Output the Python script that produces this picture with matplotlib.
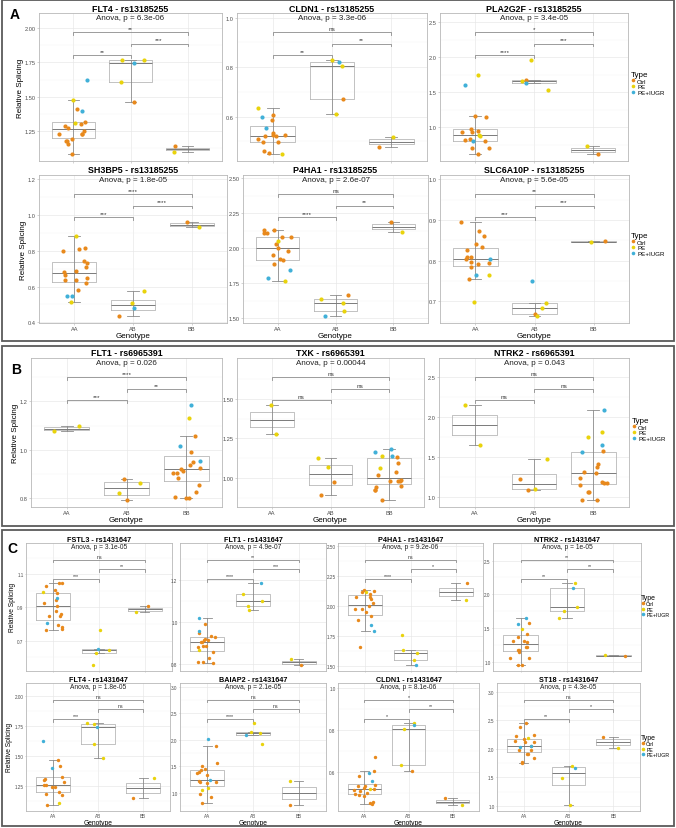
import numpy as np
import matplotlib
matplotlib.use("Agg")
import matplotlib.pyplot as plt
from matplotlib import cbook
from matplotlib.patches import Rectangle
from matplotlib.lines import Line2D

plt.rcParams['font.family'] = ['Liberation Sans', 'DejaVu Sans']

W, H = 676, 829
genotypes = ['AA', 'AB', 'BB']
types = ['Ctrl', 'PE', 'PE+IUGR']
type_colors = ['#E8891C', '#E9D30C', '#40B0D8']

# each genotype -> (Ctrl, PE, PE+IUGR) values
# ---- panel A: rs13185255
flt4_a = {'AA': ([1.41, 1.32, 1.30, 1.285, 1.275, 1.25, 1.23, 1.23, 1.23, 1.195, 1.16, 1.175, 1.175, 1.083], [1.476, 1.31], [1.62, 1.40]),
          'AB': ([1.46], [1.77, 1.77, 1.607], [1.746]),
          'BB': ([1.14], [1.10], [])}
cldn1_a = {'AA': ([0.605, 0.586, 0.524, 0.52, 0.534, 0.527, 0.521, 0.51, 0.497, 0.496, 0.459, 0.452], [0.636, 0.448], [0.597, 0.553]),
           'AB': ([0.671], [0.830, 0.804, 0.61], [0.822]),
           'BB': ([0.477], [0.518], [])}
pla2g2f_a = {'AA': ([1.158, 1.149, 0.977, 0.94, 0.934, 0.924, 0.83, 0.81, 0.80, 0.70, 0.695, 0.614], [1.74, 0.89, 0.876], [1.607, 0.80]),
             'AB': ([1.669], [1.965, 1.664, 1.535], [1.626]),
             'BB': ([0.623], [0.728], [])}
sh3bp5_a = {'AA': ([0.815, 0.81, 0.80, 0.741, 0.733, 0.707, 0.686, 0.68, 0.667, 0.65, 0.638, 0.636, 0.621, 0.579], [0.882, 0.516], [0.55, 0.547]),
            'AB': ([0.435], [0.573, 0.51], [0.48]),
            'BB': ([0.962], [0.93], [])}
p4ha1_a = {'AA': ([2.133, 2.128, 2.11, 2.106, 2.08, 2.08, 2.03, 2.0, 1.98, 1.953, 1.92, 1.915, 1.89], [2.05, 1.763], [1.843, 1.79]),
           'AB': ([1.668], [1.634, 1.612, 1.55], [1.515]),
           'BB': ([2.19], [2.118], [])}
slc6a10p_a = {'AA': ([0.896, 0.874, 0.86, 0.841, 0.834, 0.826, 0.81, 0.808, 0.804, 0.797, 0.795, 0.791, 0.785, 0.756], [0.766, 0.698], [0.805, 0.766]),
              'AB': ([0.669], [0.697, 0.683, 0.664], [0.75]),
              'BB': ([0.848], [0.846], [])}
# ---- panel B: rs6965391
flt1_b = {'AA': ([], [1.099, 1.076], []),
          'AB': ([0.88, 0.793], [0.865, 0.821], []),
          'BB': ([1.058, 0.99, 0.949, 0.937, 0.925, 0.92, 0.914, 0.906, 0.903, 0.883, 0.857, 0.828, 0.807, 0.803, 0.80], [1.132], [1.185, 1.017, 0.956])}
txk_b = {'AA': ([], [1.462, 1.276], []),
         'AB': ([0.977, 0.895], [1.128, 1.071], []),
         'BB': ([1.134, 1.094, 1.036, 1.017, 0.988, 0.983, 0.981, 0.981, 0.952, 0.941, 0.927, 0.927, 0.86], [1.14, 1.063], [1.186, 1.167, 1.142])}
ntrk2_b = {'AA': ([], [2.154, 1.654], []),
           'AB': ([1.233, 1.092], [1.483, 1.104], []),
           'BB': ([1.579, 1.421, 1.375, 1.313, 1.308, 1.238, 1.196, 1.183, 1.179, 1.158, 1.071, 1.067, 0.971, 0.967], [1.813, 1.758], [2.088, 1.65, 1.567])}
# ---- panel C: rs1431647
fstl3_c = {'AA': ([1.045, 1.045, 1.027, 1.003, 0.985, 0.944, 0.928, 0.906, 0.878, 0.86, 0.848, 0.848, 0.797, 0.785, 0.771, 0.763], [0.991], [0.957, 0.805]),
           'AB': ([], [0.765, 0.642, 0.623, 0.553], [0.65]),
           'BB': ([0.906], [0.872], [])}
flt1_c = {'AA': ([0.991, 0.95, 0.934, 0.928, 0.921, 0.913, 0.913, 0.905, 0.905, 0.885, 0.885, 0.882, 0.858, 0.83, 0.811, 0.808, 0.803], [0.866], [1.017, 0.957]),
          'AB': ([], [1.132, 1.098, 1.074, 1.058], [1.184]),
          'BB': ([0.795], [0.824], [])}
p4ha1_c = {'AA': ([2.134, 2.128, 2.12, 2.1, 2.08, 2.077, 2.063, 2.027, 1.999, 1.979, 1.973, 1.953, 1.92, 1.883, 1.663], [2.117], [1.841, 1.793]),
           'AB': ([], [1.762, 1.635, 1.613, 1.551], [1.511]),
           'BB': ([2.19], [2.049], [])}
ntrk2_c = {'AA': ([1.579, 1.417, 1.372, 1.307, 1.307, 1.302, 1.226, 1.221, 1.171, 1.17, 1.15, 1.065, 1.055, 0.954, 0.954], [1.488], [1.649, 1.568]),
           'AB': ([], [2.163, 1.815, 1.755, 1.649], [2.097]),
           'BB': ([1.09], [1.10], [])}
flt4_c = {'AA': ([1.464, 1.412, 1.319, 1.305, 1.296, 1.282, 1.258, 1.258, 1.235, 1.235, 1.198, 1.18, 1.174, 1.087], [1.105], [1.623, 1.40]),
          'AB': ([], [1.774, 1.768, 1.603, 1.479], [1.742]),
          'BB': ([1.145], [1.313], [])}
baiap2_c = {'AA': ([1.873, 1.553, 1.496, 1.446, 1.421, 1.396, 1.364, 1.339, 1.226, 1.207, 1.195, 1.176, 0.969, 0.913, 0.80], [1.088, 1.051], [2.023, 1.239]),
            'AB': ([], [2.312, 2.149, 2.124, 1.929], [2.099]),
            'BB': ([0.762], [1.226], [])}
cldn1_c = {'AA': ([0.668, 0.603, 0.581, 0.536, 0.531, 0.531, 0.524, 0.516, 0.512, 0.508, 0.498, 0.494, 0.49, 0.482, 0.453, 0.45, 0.447], [0.515], [0.592, 0.555]),
           'AB': ([0.605], [0.831, 0.803, 0.634], [0.821]),
           'BB': ([0.473], [0.44], [])}
st18_c = {'AA': ([2.445, 2.374, 2.25, 2.222, 2.17, 2.14, 2.123, 2.123, 2.041, 1.982, 1.971, 1.906, 1.906, 1.842, 1.772, 1.754], [2.181], [2.053, 2.029]),
          'AB': ([], [1.696, 1.491, 1.018], [1.667]),
          'BB': ([2.21], [2.023], [])}

# title, anova p, significance (AA-AB, AB-BB, AA-BB), y tick labels
plots_a = [
    (flt4_a, 'FLT4 - rs13185255', '6.3e-06', ['**', '***', '**'], ['1.25', '1.50', '1.75', '2.00']),
    (cldn1_a, 'CLDN1 - rs13185255', '3.3e-06', ['**', '**', 'ns'], ['0.6', '0.8', '1.0']),
    (pla2g2f_a, 'PLA2G2F - rs13185255', '3.4e-05', ['****', '***', '*'], ['1.0', '1.5', '2.0', '2.5']),
    (sh3bp5_a, 'SH3BP5 - rs13185255', '1.8e-05', ['***', '****', '****'], ['0.4', '0.6', '0.8', '1.0', '1.2']),
    (p4ha1_a, 'P4HA1 - rs13185255', '2.6e-07', ['****', '**', 'ns'], ['1.50', '1.75', '2.00', '2.25', '2.50']),
    (slc6a10p_a, 'SLC6A10P - rs13185255', '5.6e-05', ['***', '***', '**'], ['0.7', '0.8', '0.9', '1.0']),
]
plots_b = [
    (flt1_b, 'FLT1 - rs6965391', '0.026', ['***', '**', '****'], ['0.8', '1.0', '1.2']),
    (txk_b, 'TXK - rs6965391', '0.00044', ['ns', 'ns', 'ns'], ['1.00', '1.25', '1.50']),
    (ntrk2_b, 'NTRK2 - rs6965391', '0.043', ['ns', 'ns', 'ns'], ['1.0', '1.5', '2.0', '2.5']),
]
plots_c = [
    (fstl3_c, 'FSTL3 - rs1431647', '3.1e-05', ['***', '**', 'ns'], ['0.7', '0.9', '1.1']),
    (flt1_c, 'FLT1 - rs1431647', '4.9e-07', ['****', '***', '**'], ['0.8', '1.0', '1.2']),
    (p4ha1_c, 'P4HA1 - rs1431647', '9.2e-06', ['****', '*', 'ns'], ['1.50', '1.75', '2.00', '2.25', '2.50']),
    (ntrk2_c, 'NTRK2 - rs1431647', '1e-05', ['**', '**', '**'], ['1.0', '1.5', '2.0', '2.5']),
    (flt4_c, 'FLT4 - rs1431647', '1.8e-05', ['***', 'ns', 'ns'], ['1.25', '1.50', '1.75', '2.00']),
    (baiap2_c, 'BAIAP2 - rs1431647', '2.1e-05', ['****', 'ns', 'ns'], ['1.0', '1.5', '2.0', '2.5', '3.0']),
    (cldn1_c, 'CLDN1 - rs1431647', '8.1e-06', ['*', '**', '*'], ['0.6', '0.8', '1.0']),
    (st18_c, 'ST18 - rs1431647', '4.3e-05', ['**', '*', 'ns'], ['1.0', '1.5', '2.0', '2.5', '3.0']),
]

rng = np.random.default_rng(7)
fig = plt.figure(figsize=(W / 100, H / 100), dpi=100)


def add_ax(l, t, r, b):
    return fig.add_axes([l / W, 1 - b / H, (r - l) / W, (b - t) / H])


def draw(ax, data, title, pval, sigs, ticks, k=1.0, xlab=False, ylab=False):
    allv = []
    for gi, g in enumerate(genotypes):
        x = gi + 1
        vals = [v for grp in data[g] for v in grp]
        allv += vals
        st = cbook.boxplot_stats(vals, whis=1.5)[0]
        ax.bxp([st], positions=[x], widths=0.75, showfliers=False, capwidths=0.2,
               manage_ticks=False,
               boxprops=dict(color='#b8b8b8', lw=0.6),
               whiskerprops=dict(color='#8c8c8c', lw=0.6),
               capprops=dict(color='#8c8c8c', lw=0.6),
               medianprops=dict(color='#7a7a7a', lw=0.7), zorder=2)
        ax.vlines(x, st['q1'], st['q3'], color='#8c8c8c', lw=0.6, zorder=2)
        for ti, grp in enumerate(data[g]):
            if not grp:
                continue
            jx = x + rng.uniform(-0.25, 0.25, len(grp))
            ax.scatter(jx, grp, s=9 * k * k, color=type_colors[ti], lw=0, zorder=3)
    lo, hi = min(allv), max(allv)
    r = hi - lo
    ya = hi + 0.45 * r
    R = ya - lo
    tip = 0.02 * R
    for (a, b), frac, s in zip([(1, 2), (2, 3), (1, 3)], [0.05, 0.17, 0.29], sigs):
        yb = hi + frac * r
        ax.plot([a, a, b, b], [yb - tip, yb, yb, yb - tip], color='#8c8c8c', lw=0.6, zorder=2)
        ax.text((a + b) / 2, yb + 0.008 * R, s, ha='center', va='bottom', fontsize=4.6 * k, color='#333333')
    ax.text(2, ya, 'Anova, p = ' + pval, ha='center', va='center', fontsize=5.8 * k, color='#222222')
    ax.set_title(title, fontsize=6.4 * k, fontweight='bold', pad=1.8)

    tv = [float(t) for t in ticks]
    ax.set_yticks(tv)
    ax.set_yticklabels(ticks)
    step = tv[1] - tv[0]
    ax.set_yticks([tv[0] - step / 2] + [t + step / 2 for t in tv], minor=True)
    ax.set_xticks([1, 2, 3])
    # limits after the ticks, since set_yticks widens the view
    ax.set_ylim(lo - 0.05 * R, ya + 0.03 * R)
    ax.set_xlim(0.4, 3.6)
    ax.grid(which='major', color='#e6e6e6', lw=0.45)
    ax.grid(which='minor', axis='y', color='#f3f3f3', lw=0.3)
    ax.set_axisbelow(True)
    ax.tick_params(which='major', length=1.2 * k, width=0.4, color='#b3b3b3', pad=1.2 * k * k,
                   labelsize=4.1 * k, labelcolor='#4d4d4d')
    ax.tick_params(which='minor', length=0)
    for sp in ax.spines.values():
        sp.set_color('#b8b8b8')
        sp.set_linewidth(0.6)
    if xlab:
        ax.set_xticklabels(genotypes)
        ax.set_xlabel('Genotype', fontsize=5.8 * k, labelpad=0.6 * k * k)
    else:
        ax.set_xticklabels([])
    if ylab:
        ax.set_ylabel('Relative Splicing', fontsize=5.8 * k, labelpad=0.8)


rects_a = [(39, 14, 222, 162), (237, 14, 427, 162), (440, 14, 628, 162),
           (39, 176, 227, 324), (243, 176, 428, 324), (440, 176, 629, 324)]
rects_b = [(31, 359, 222, 508), (237, 359, 424, 508), (439, 359, 629, 508)]
rects_c = [(26, 544, 172, 672), (180, 544, 326, 672), (338, 544, 483, 672), (493, 544, 641, 672),
           (26, 684, 170, 812), (180, 684, 326, 812), (338, 684, 479, 812), (497, 684, 640, 812)]

for i, (p, rc) in enumerate(zip(plots_a, rects_a)):
    draw(add_ax(*rc), *p, k=1.0, xlab=i >= 3, ylab=i % 3 == 0)
for i, (p, rc) in enumerate(zip(plots_b, rects_b)):
    draw(add_ax(*rc), *p, k=1.0, xlab=True, ylab=i == 0)
for i, (p, rc) in enumerate(zip(plots_c, rects_c)):
    draw(add_ax(*rc), *p, k=0.82, xlab=i >= 4, ylab=i % 4 == 0)

# legends
handles = [Line2D([], [], ls='', marker='o', ms=2.6, mew=0, color=c) for c in type_colors]
for lx, ly, k in [(631, 72, 1.0), (631, 233, 1.0), (632, 418, 1.0), (641, 595, 0.85), (641, 735, 0.85)]:
    fig.legend(handles, types, title='Type', loc='upper left', bbox_to_anchor=(lx / W, 1 - ly / H),
               frameon=False, fontsize=4.4 * k, title_fontsize=5.8 * k, handlelength=0.6,
               handletextpad=0.4, labelspacing=0.05, borderpad=0, borderaxespad=0, alignment='left')

# panel frames and letters
for y0, y1 in [(1, 342), (347, 527), (531, 827)]:
    fig.add_artist(Rectangle((1.5 / W, 1 - y1 / H), 672 / W, (y1 - y0) / H, transform=fig.transFigure,
                             fill=False, ec='#5a5a5a', lw=1.3))
fig.text(10 / W, 1 - 15 / H, 'A', fontsize=10, fontweight='bold', va='center')
fig.text(11 / W, 1 - 370 / H, 'B', fontsize=10, fontweight='bold', va='center')
fig.text(7 / W, 1 - 549 / H, 'C', fontsize=10, fontweight='bold', va='center')

fig.savefig('out.png', dpi=100)
